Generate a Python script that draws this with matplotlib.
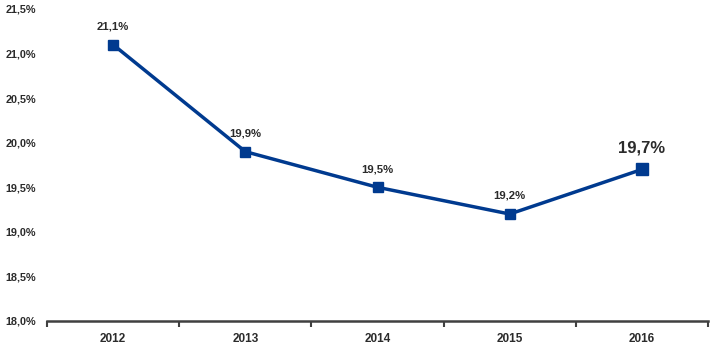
import matplotlib
matplotlib.use("Agg")
import matplotlib.pyplot as plt
import numpy as np

years = ["2012", "2013", "2014", "2015", "2016"]
values = [21.1, 19.9, 19.5, 19.2, 19.7]
labels = ["21,1%", "19,9%", "19,5%", "19,2%", "19,7%"]
yticks = [18.0, 18.5, 19.0, 19.5, 20.0, 20.5, 21.0, 21.5]
ytick_labels = ["18,0%", "18,5%", "19,0%", "19,5%", "20,0%", "20,5%", "21,0%", "21,5%"]

plt.rcParams['font.family'] = ['Liberation Sans', 'DejaVu Sans']
blue = "#003A8F"
txt = "#2B2B2B"

fig = plt.figure(figsize=(7.2, 3.48), dpi=100)
ax = fig.add_axes([47 / 720, 27 / 348, 661 / 720, 312 / 348])

x = np.arange(len(years))
ax.plot(x, values, color=blue, lw=2.5, zorder=2)
ax.plot(x[:-1], values[:-1], 's', color=blue, ms=6.5, zorder=3)
ax.plot(x[-1:], values[-1:], 's', color=blue, ms=8.5, zorder=3)

for i, (v, lab) in enumerate(zip(values, labels)):
    if i == len(values) - 1:
        ax.annotate(lab, (i, v), xytext=(0, 10), textcoords="offset points",
                    ha="center", va="bottom", fontsize=12, fontweight="bold", color=txt)
    else:
        ax.annotate(lab, (i, v), xytext=(0, 9.5), textcoords="offset points",
                    ha="center", va="bottom", fontsize=8.2, fontweight="bold", color=txt)

ax.set_xlim(-0.5, len(years) - 0.5)
ax.set_ylim(18.0, 21.5)
ax.set_yticks(yticks)
ax.set_yticklabels(ytick_labels, fontsize=7.8, fontweight="bold", color=txt)
ax.tick_params(axis="y", length=0, pad=8)

ax.set_xticks(np.arange(-0.5, len(years), 1.0))
ax.set_xticklabels([])
ax.set_xticks(x, minor=True)
ax.set_xticklabels(years, minor=True, fontsize=8.5, fontweight="bold", color=txt)
ax.tick_params(axis="x", which="major", length=4, width=1.5, color="#404040", direction="out")
ax.tick_params(axis="x", which="minor", length=0, pad=9)

for s in ["top", "right", "left"]:
    ax.spines[s].set_visible(False)
ax.spines["bottom"].set_color("#404040")
ax.spines["bottom"].set_linewidth(1.8)

fig.savefig("out.png", dpi=100)
